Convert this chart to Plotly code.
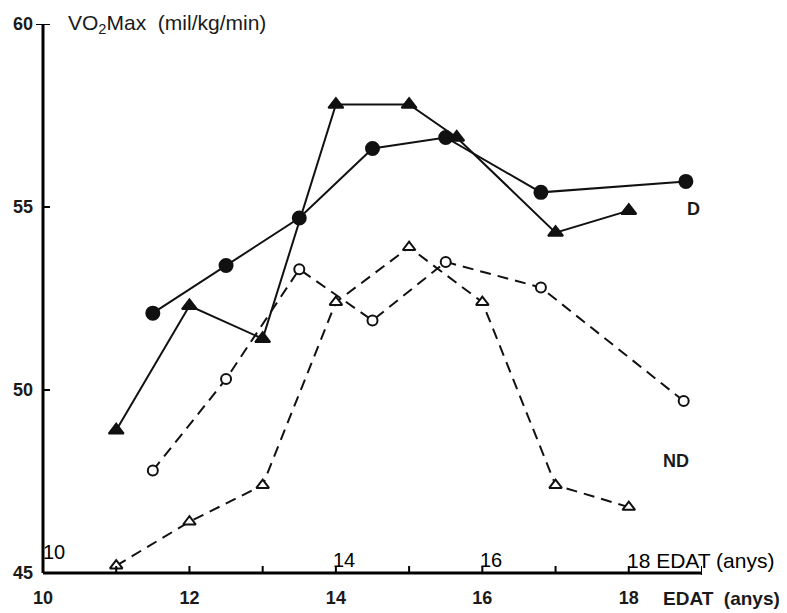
import plotly.graph_objects as go

# D group (solid lines)
d_tri_x = [11, 12, 13, 14, 15, 15.65, 17, 18]
d_tri_y = [48.9, 52.3, 51.4, 57.8, 57.8, 56.9, 54.3, 54.9]
d_circ_x = [11.5, 12.5, 13.5, 14.5, 15.5, 16.8, 18.78]
d_circ_y = [52.1, 53.4, 54.7, 56.6, 56.9, 55.4, 55.7]

# ND group (dashed lines)
nd_circ_x = [11.5, 12.5, 13.5, 14.5, 15.5, 16.8, 18.75]
nd_circ_y = [47.8, 50.3, 53.3, 51.9, 53.5, 52.8, 49.7]
nd_tri_x = [11, 12, 13, 14, 15, 16, 17, 18]
nd_tri_y = [45.2, 46.4, 47.4, 52.4, 53.9, 52.4, 47.4, 46.8]

x_labelvals = [10, 12, 14, 16, 18]
x_tickmarks = [11, 12, 13, 14, 15, 16, 17, 18, 19]
y_ticks = [45, 50, 55, 60]
y_tickmarks = [50, 55, 60]
overlay_labels = ["10", "14", "16", "18 EDAT (anys)"]
overlay_x = [10, 14, 16, 18]
overlay_dx = [-2, -5, -4, -4]

INK = "#111111"
fig = go.Figure()

def add(x, y, dash, symbol, filled, size):
    fig.add_trace(go.Scatter(
        x=x, y=y, mode="lines+markers",
        line=dict(color=INK, width=2, dash=dash),
        marker=dict(symbol=symbol, size=size,
                    color=INK if filled else "white",
                    line=dict(color=INK, width=2)),
        showlegend=False, cliponaxis=False))

add(nd_tri_x, nd_tri_y, "11px,7px", "triangle-up", False, 11)
add(nd_circ_x, nd_circ_y, "11px,7px", "circle", False, 10)
add(d_tri_x, d_tri_y, "solid", "triangle-up", True, 13)
add(d_circ_x, d_circ_y, "solid", "circle", True, 13)

tick_font = dict(family="Liberation Sans", size=18, color="#1a1a1a", weight="bold")

# the page adds an 8px body margin, so the figure is 8px smaller on each side
fig.update_layout(
    width=779, height=605,
    margin=dict(l=35, r=85, t=16, b=40),
    plot_bgcolor="white", paper_bgcolor="white",
    xaxis=dict(range=[10, 19], tickvals=x_labelvals, ticktext=[str(v) for v in x_labelvals],
               showgrid=False, zeroline=False, showline=False, ticks="",
               tickfont=tick_font, automargin=False, ticklabelstandoff=12),
    yaxis=dict(range=[45, 60], tickvals=y_ticks, ticktext=[str(v) for v in y_ticks],
               showgrid=False, zeroline=False, showline=False, ticks="",
               tickfont=tick_font, automargin=False, ticklabelstandoff=9),
)

shapes = []
# axis lines
shapes.append(dict(type="line", xref="paper", yref="paper", x0=0, x1=0, y0=0, y1=1,
                   line=dict(color="black", width=3)))
shapes.append(dict(type="line", xref="paper", yref="paper", x0=0, x1=1, y0=0, y1=0,
                   line=dict(color="black", width=3)))
# tick marks pointing inside
for v in x_tickmarks:
    shapes.append(dict(type="line", xref="x", yref="paper", x0=v, x1=v,
                       ysizemode="pixel", yanchor=0, y0=-2 if v == 19 else 0, y1=7,
                       line=dict(color="black", width=2)))
for v in y_tickmarks:
    shapes.append(dict(type="line", yref="y", xref="paper", y0=v, y1=v,
                       xsizemode="pixel", xanchor=0, x0=-7 if v == 60 else 0, x1=7,
                       line=dict(color="black", width=2)))
fig.update_layout(shapes=shapes)

ann = []
ann.append(dict(x=10, y=60, xref="x", yref="y", xanchor="left", yanchor="middle", xshift=23,
                text="VO<sub>2</sub>Max  (mil/kg/min)", showarrow=False,
                font=dict(family="Liberation Sans", size=21, color="#1a1a1a")))
ann.append(dict(x=19, y=45, xref="x", yref="y", xanchor="right", yanchor="middle", xshift=80, yshift=-25,
                text="EDAT  (anys)", showarrow=False,
                font=dict(family="Liberation Sans", size=19, color="#1a1a1a", weight="bold")))
ann.append(dict(x=18.88, y=54.95, xref="x", yref="y", xanchor="center", yanchor="middle",
                text="D", showarrow=False,
                font=dict(family="Liberation Sans", size=18, color="#1a1a1a", weight="bold")))
ann.append(dict(x=18.65, y=48.05, xref="x", yref="y", xanchor="center", yanchor="middle",
                text="ND", showarrow=False,
                font=dict(family="Liberation Sans", size=18, color="#1a1a1a", weight="bold")))
for lab, xv, dx in zip(overlay_labels, overlay_x, overlay_dx):
    ann.append(dict(x=xv, y=45, xref="x", yref="y", xanchor="left", yanchor="middle",
                    xshift=dx, yshift=21 if xv == 10 else 13,
                    text=lab, showarrow=False,
                    font=dict(family="Liberation Sans", size=21 if xv == 18 else 20, color="black")))
fig.update_layout(annotations=ann)

fig.write_html("out.html")
